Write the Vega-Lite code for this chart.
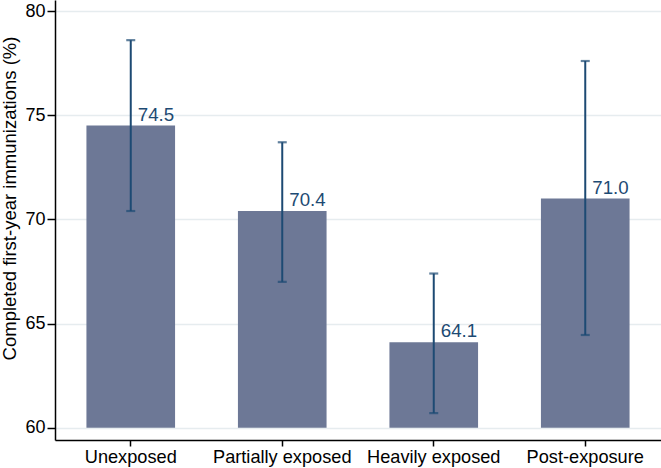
{
  "$schema": "https://vega.github.io/schema/vega-lite/v6.json",
  "autosize": "none",
  "padding": {"left": 55, "top": 0, "right": 0, "bottom": 28},
  "width": 606,
  "height": 440,
  "background": "white",
  "config": {
    "view": {"stroke": null},
    "font": "Liberation Sans"
  },
  "data": {
    "values": [
      {"group": "Unexposed", "mean": 74.5, "lo": 70.4, "hi": 78.6, "label": "74.5"},
      {"group": "Partially exposed", "mean": 70.4, "lo": 67.0, "hi": 73.7, "label": "70.4"},
      {"group": "Heavily exposed", "mean": 64.1, "lo": 60.7, "hi": 67.4, "label": "64.1"},
      {"group": "Post-exposure", "mean": 71.0, "lo": 64.45, "hi": 77.6, "label": "71.0"}
    ]
  },
  "encoding": {
    "x": {
      "field": "group",
      "type": "nominal",
      "sort": null,
      "scale": {"paddingInner": 0.415, "paddingOuter": 0.2075},
      "axis": {
        "title": null,
        "labelAngle": 0,
        "labelFontSize": 18.2,
        "labelColor": "black",
        "labelPadding": 2,
        "tickSize": 6,
        "tickColor": "black",
        "tickWidth": 1.5,
        "domainColor": "black",
        "domainWidth": 1.5,
        "grid": false
      }
    }
  },
  "layer": [
    {
      "mark": {"type": "bar", "color": "#6d7896"},
      "encoding": {
        "y": {
          "field": "mean",
          "type": "quantitative",
          "scale": {"domain": [59.41, 80.528], "nice": false, "zero": false},
          "axis": {
            "title": "Completed first-year immunizations (%)",
            "titleFontSize": 18.5,
            "titleFontWeight": "normal",
            "titleColor": "black",
            "titleAngle": -90,
            "titleX": -36,
            "titleY": 198,
            "titleAlign": "center",
            "titleBaseline": "bottom",
            "values": [60, 65, 70, 75, 80],
            "labelFontSize": 18,
            "labelColor": "black",
            "labelPadding": 2,
            "tickSize": 8,
            "tickColor": "black",
            "tickWidth": 1.5,
            "domainColor": "black",
            "domainWidth": 1.5,
            "grid": true,
            "gridColor": "#e6ecef",
            "gridWidth": 1.5
          }
        },
        "y2": {"datum": 60}
      }
    },
    {
      "mark": {"type": "rule", "color": "#1d4a73", "strokeWidth": 2},
      "encoding": {
        "y": {"field": "lo", "type": "quantitative"},
        "y2": {"field": "hi"}
      }
    },
    {
      "mark": {"type": "tick", "color": "#1d4a73", "thickness": 2.2, "size": 9, "orient": "horizontal"},
      "encoding": {
        "y": {"field": "lo", "type": "quantitative"}
      }
    },
    {
      "mark": {"type": "tick", "color": "#1d4a73", "thickness": 2.2, "size": 9, "orient": "horizontal"},
      "encoding": {
        "y": {"field": "hi", "type": "quantitative"}
      }
    },
    {
      "mark": {"type": "text", "align": "left", "baseline": "bottom", "dx": 7, "dy": -1, "fontSize": 18.7, "color": "#1d4a73"},
      "encoding": {
        "y": {"field": "mean", "type": "quantitative"},
        "text": {"field": "label"}
      }
    }
  ]
}
